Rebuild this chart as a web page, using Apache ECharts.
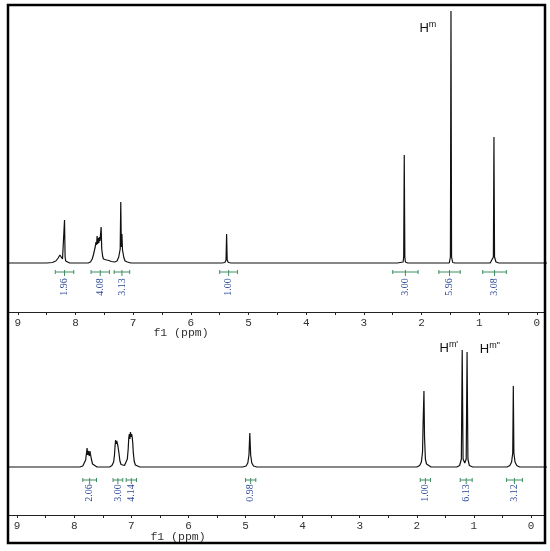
<!DOCTYPE html>
<html><head><meta charset="utf-8">
<script src="https://cdn.jsdelivr.net/npm/echarts@6/dist/echarts.min.js"></script>
<style>html,body{margin:0;padding:0;background:#fff}#c{width:550px;height:551px}</style>
</head><body><div id="c"></div>
<script>
// ---------- data ----------
const xTickValues = [0,1,2,3,4,5,6,7,8,9];
const xTickLabels = ['0','1','2','3','4','5','6','7','8','9'];
const xSmallTickValues = [0,0.5,1,1.5,2,2.5,3,3.5,4,4.5,5,5.5,6,6.5,7,7.5,8,8.5,9];

// top spectrum: [ppm, intensity]
const topSpectrum = [
 [9.40,0],[8.50,0],[8.40,0.5],[8.34,2],[8.30,5],[8.27,8],[8.255,9],[8.24,7],[8.225,4],[8.21,3],[8.20,6],[8.19,43],[8.18,6],[8.17,2],[8.15,1],[8.10,0],
 [7.78,0],[7.74,1],[7.71,4],[7.69,8],[7.67,13],[7.655,17],[7.645,21],[7.635,18],[7.625,27],[7.615,19],[7.605,25],[7.595,20],[7.585,26],[7.575,22],[7.565,24],[7.555,36],[7.545,14],[7.53,7],[7.515,4],[7.50,3],[7.46,3],[7.42,2.5],[7.38,1.5],[7.35,1],[7.32,1],
 [7.28,2],[7.25,6],[7.225,14],[7.215,61],[7.205,16],[7.195,29],[7.185,13],[7.175,11],[7.16,5],[7.14,2],[7.10,1],[7.04,0],
 [5.46,0],[5.41,0.5],[5.39,3],[5.38,29],[5.37,3],[5.35,0.5],[5.30,0],
 [2.42,0],[2.37,0.5],[2.36,2],[2.35,0.5],[2.32,1],[2.31,6],[2.30,108],[2.29,6],[2.28,1],[2.24,0],
 [1.77,0],[1.76,2],[1.75,0],[1.52,0],[1.50,6],[1.49,252],[1.48,6],[1.46,0.5],[1.42,0],
 [0.87,0],[0.85,1.5],[0.84,0],[0.81,0],[0.80,1.5],[0.78,1],[0.755,6],[0.745,126],[0.735,6],[0.71,1],[0.66,0],[0.64,1.5],[0.63,0],[-0.3,0]
];

// bottom spectrum: [ppm, intensity]
const bottomSpectrum = [
 [9.40,0],[7.90,0],[7.85,1],[7.82,3],[7.80,7],[7.785,14],[7.775,19],[7.765,12],[7.755,16],[7.745,17],[7.735,11],[7.725,16],[7.715,15],[7.70,8],[7.68,3],[7.65,1],[7.60,0],
 [7.38,0],[7.34,1.5],[7.31,5],[7.295,12],[7.285,21],[7.275,27],[7.265,23],[7.255,26],[7.245,25],[7.235,21],[7.225,22],[7.215,13],[7.20,6],[7.18,2.5],[7.15,1.5],[7.12,1.5],
 [7.09,3],[7.07,8],[7.055,18],[7.045,29],[7.035,33],[7.025,28],[7.015,35],[7.005,30],[6.995,33],[6.985,30],[6.975,24],[6.965,14],[6.95,6],[6.93,2],[6.90,0.5],[6.85,0],
 [5.05,0],[4.99,1],[4.96,4],[4.94,12],[4.925,34],[4.91,12],[4.89,4],[4.86,1],[4.80,0],
 [2.00,0],[1.95,1.5],[1.92,5],[1.90,15],[1.89,43],[1.88,45],[1.875,76],[1.865,30],[1.85,8],[1.83,3],[1.80,1],[1.75,0],
 [1.30,0],[1.25,1.5],[1.22,8],[1.205,117],[1.19,8],[1.16,4],[1.135,8],[1.12,115],[1.105,8],[1.08,1.5],[1.02,0],
 [0.42,0],[0.37,1.5],[0.34,5],[0.32,14],[0.31,81],[0.30,14],[0.28,5],[0.25,1.5],[0.20,0],[-0.4,0]
];

// integrals
const topIntegralStart = [8.35, 7.73, 7.33, 5.50, 2.50, 1.70, 0.94];
const topIntegralEnd   = [8.03, 7.41, 7.06, 5.19, 2.06, 1.33, 0.53];
const topIntegralLabels = ['1.96','4.08','3.13','1.00','3.00','5.96','3.08'];
const bottomIntegralStart = [7.85, 7.32, 7.09, 5.00, 1.94, 1.24, 0.43];
const bottomIntegralEnd   = [7.61, 7.15, 6.91, 4.82, 1.76, 1.03, 0.15];
const bottomIntegralLabels = ['2.06','3.00','4.14','0.98','1.00','6.13','3.12'];

// annotations
const topAnnotationText = ['{h|H}{s|m}'];
const topAnnotationPpm = [1.89];
const topAnnotationIntensity = [235];
const bottomAnnotationText = ["{h|H}{s|m'}", "{h|H}{s|m''}"];
const bottomAnnotationPpm = [1.44, 0.72];
const bottomAnnotationIntensity = [119, 118];

// ---------- chart ----------
const chart = echarts.init(document.getElementById('c'), null, {renderer:'canvas'});
const green = '#3f8f62', blue = '#2f4c9c';

function integralRender(labels, yBracket, yText) {
  return function (params, api) {
    const a = api.coord([api.value(0), yBracket]);
    const b = api.coord([api.value(1), yBracket]);
    const t = api.coord([(api.value(0) + api.value(1)) / 2, yText]);
    const y = a[1], mid = (a[0] + b[0]) / 2;
    const st = {stroke: green, lineWidth: 1};
    return {type: 'group', children: [
      {type: 'line', shape: {x1: a[0], y1: y, x2: b[0], y2: y}, style: st},
      {type: 'line', shape: {x1: a[0], y1: y - 2, x2: a[0], y2: y + 2}, style: st},
      {type: 'line', shape: {x1: b[0], y1: y - 2, x2: b[0], y2: y + 2}, style: st},
      {type: 'line', shape: {x1: mid, y1: y - 2, x2: mid, y2: y + 4}, style: st},
      {type: 'text', x: mid, y: t[1], rotation: Math.PI / 2,
        style: {text: labels[params.dataIndex], fill: blue, font: '10px "Liberation Serif"', align: 'center', verticalAlign: 'middle'}}
    ]};
  };
}

function xAxisCfg(grid, min, max, namePad, gap) {
  return {
    gridIndex: grid, type: 'value', inverse: true, min: min, max: max,
    axisLine: {show: true, onZero: false, lineStyle: {color: '#222', width: 1}},
    axisTick: {show: true, customValues: xSmallTickValues, length: 3, lineStyle: {color: '#222'}},
    axisLabel: {show: true, customValues: xTickValues, margin: 6,
      formatter: v => xTickLabels[xTickValues.indexOf(Math.round(v))],
      fontFamily: '"Liberation Mono", monospace', fontSize: 11, color: '#333'},
    splitLine: {show: false},
    name: 'f1 (ppm)', nameLocation: 'middle', nameGap: gap, nameMoveOverlap: false,
    nameTextStyle: {fontFamily: '"Liberation Mono", monospace', fontSize: 11.5, color: '#333', padding: [0, namePad, 0, 0]}
  };
}

const rich = {
  h: {fontFamily: '"Liberation Sans", Arial', fontSize: 13, color: '#111'},
  s: {fontFamily: '"Liberation Sans", Arial', fontSize: 9, color: '#111', padding: [0, 0, 7, 0]}
};

function annotations(texts, ppms, ints) {
  return texts.map((t, i) => ({coord: [ppms[i], ints[i]], label: {show: true, position: 'inside', formatter: t, rich: rich}}));
}

chart.setOption({
  animation: false,
  backgroundColor: '#fff',
  grid: [
    {left: 8, right: 5, top: 10, bottom: 239, containLabel: false},
    {left: 8, right: 5, top: 340, bottom: 36, containLabel: false}
  ],
  xAxis: [xAxisCfg(0, -0.14, 9.17, 191, 15), xAxisCfg(1, -0.245, 9.16, 197, 16)],
  yAxis: [
    {gridIndex: 0, type: 'value', min: -49, max: 253, show: false},
    {gridIndex: 1, type: 'value', min: -48, max: 127, show: false}
  ],
  series: [
    {type: 'line', xAxisIndex: 0, yAxisIndex: 0, data: topSpectrum, showSymbol: false, symbol: 'none',
      lineStyle: {color: '#111', width: 1.2}, clip: true,
      markPoint: {symbol: 'circle', symbolSize: 0, silent: true,
        data: annotations(topAnnotationText, topAnnotationPpm, topAnnotationIntensity)}},
    {type: 'line', xAxisIndex: 1, yAxisIndex: 1, data: bottomSpectrum, showSymbol: false, symbol: 'none',
      lineStyle: {color: '#111', width: 1.2}, clip: true,
      markPoint: {symbol: 'circle', symbolSize: 0, silent: true,
        data: annotations(bottomAnnotationText, bottomAnnotationPpm, bottomAnnotationIntensity)}},
    {type: 'custom', xAxisIndex: 0, yAxisIndex: 0, clip: false,
      data: topIntegralStart.map((s, i) => [s, topIntegralEnd[i]]),
      renderItem: integralRender(topIntegralLabels, -9, -24)},
    {type: 'custom', xAxisIndex: 1, yAxisIndex: 1, clip: false,
      data: bottomIntegralStart.map((s, i) => [s, bottomIntegralEnd[i]]),
      renderItem: integralRender(bottomIntegralLabels, -13, -26)}
  ],
  graphic: [
    {type: 'rect', z: 100, silent: true, shape: {x: 8, y: 5, width: 537, height: 538},
      style: {fill: null, stroke: '#000', lineWidth: 2.5}}
  ]
});
</script></body></html>
